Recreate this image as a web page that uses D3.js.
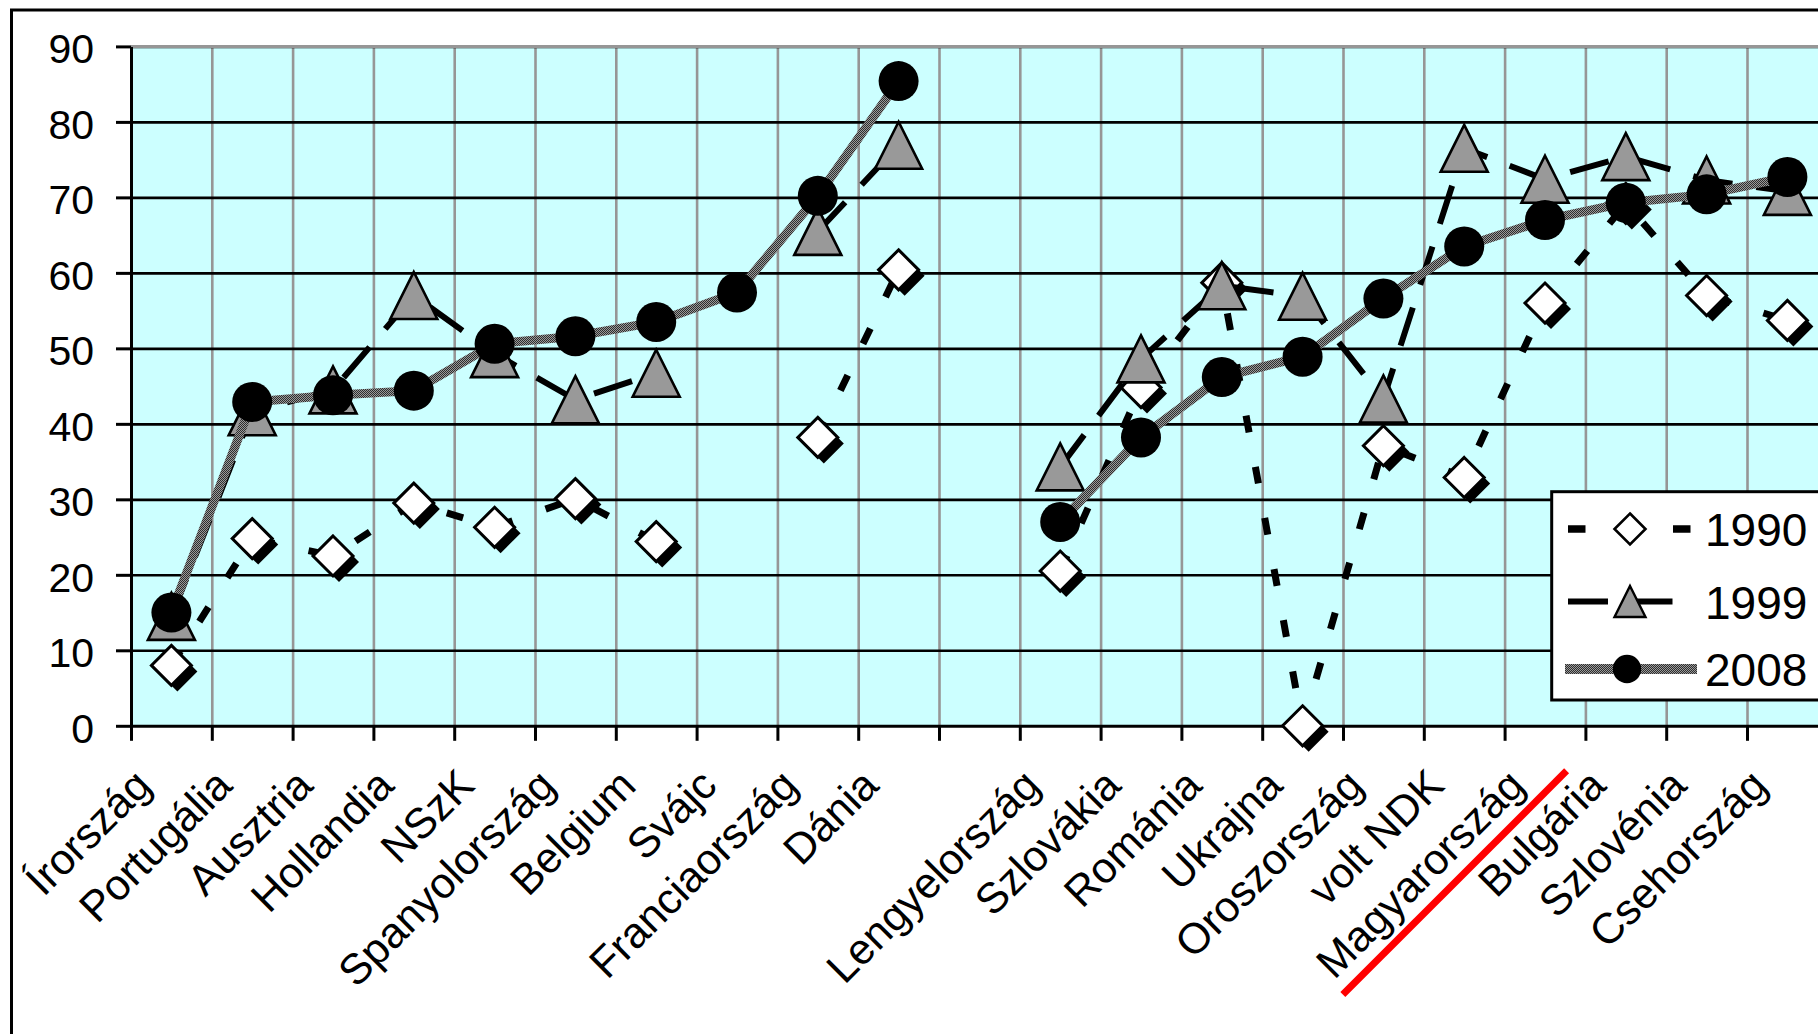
<!DOCTYPE html>
<html><head><meta charset="utf-8">
<script src="https://cdn.jsdelivr.net/npm/d3@7"></script>
<style>html,body{margin:0;padding:0;background:#fff;overflow:hidden}</style>
</head><body><svg id="c" width="1818" height="1034"></svg>
<script>
const categories = ["Írország","Portugália","Ausztria","Hollandia","NSzK","Spanyolország","Belgium","Svájc","Franciaország","Dánia","","Lengyelország","Szlovákia","Románia","Ukrajna","Oroszország","volt NDK","Magyarország","Bulgária","Szlovénia","Csehország"];
const yTicks = [0,10,20,30,40,50,60,70,80,90];
const seriesNames = ["1990","1999","2008"];
const values1990 = [8, 24.8, 22.5, 29.5, 26.3, 30.1, 24.4, null, 38.2, 60.4, null, 20.5, 44.8, 58.7, 0, 37.1, 32.9, 56, 69.2, 57, 53.7];
const values1999 = [14.5, 41.6, 44.5, 57, 49.3, 43.2, 46.7, null, 65.5, 76.9, null, 34.3, 48.6, 58.3, 56.9, 43.3, 76.5, 72.4, 75.4, 72.3, 70.8];
const values2008 = [15, 42.9, 43.8, 44.4, 50.6, 51.6, 53.5, 57.4, 70.2, 85.4, null, 27, 38.2, 46.2, 48.9, 56.6, 63.5, 67, 69.3, 70.4, 72.7];
const highlighted = "Magyarország";

const FONT = "'Liberation Sans', Arial, sans-serif";
const svg = d3.select("#c");
const L = 131, T = 46.4, B = 725.8, STEP = 80.8;
const R = L + categories.length * STEP;

const x = d3.scaleBand().domain(d3.range(categories.length)).range([L, R]);
const xc = i => x(i) + x.bandwidth() / 2;
const xEdge = d3.scaleLinear().domain([0, categories.length]).range([L, R]);
const y = d3.scaleLinear().domain([0, 90]).range([B, T]);

const defs = svg.append("defs");
const pat = defs.append("pattern").attr("id", "tex").attr("patternUnits", "userSpaceOnUse").attr("width", 2).attr("height", 2);
pat.append("rect").attr("width", 2).attr("height", 2).attr("fill", "#2e2e2e");
pat.append("rect").attr("x", 1).attr("y", 0).attr("width", 1).attr("height", 1).attr("fill", "#9a9a9a");
pat.append("rect").attr("x", 0).attr("y", 1).attr("width", 1).attr("height", 1).attr("fill", "#9a9a9a");

// outer chart border
svg.append("rect").attr("x", 11.5).attr("y", 10).attr("width", 2000).attr("height", 1200)
  .attr("fill", "#fff").attr("stroke", "#000").attr("stroke-width", 3);

// plot area
svg.append("rect").attr("x", L).attr("y", T).attr("width", R - L).attr("height", B - T).attr("fill", "#CCFFFF");

// vertical gridlines
svg.append("g").attr("transform", `translate(0,${B})`)
  .call(d3.axisBottom(xEdge).tickValues(d3.range(1, categories.length + 1)).tickSize(-(B - T)).tickFormat(""))
  .call(g => g.select(".domain").remove())
  .call(g => g.selectAll("line").attr("stroke", "#969696").attr("stroke-width", 2.6));

// horizontal gridlines
svg.append("g").attr("transform", `translate(${L},0)`)
  .call(d3.axisLeft(y).tickValues(yTicks.filter(v => v > 0)).tickSize(-(R - L)).tickFormat(""))
  .call(g => g.select(".domain").remove())
  .call(g => g.selectAll("line").attr("stroke", "#000").attr("stroke-width", 2.6));

// plot border (top)
svg.append("line").attr("x1", L).attr("x2", R).attr("y1", T).attr("y2", T).attr("stroke", "#969696").attr("stroke-width", 3);

// y axis
const ya = svg.append("g").attr("transform", `translate(${L},0)`)
  .call(d3.axisLeft(y).tickValues(yTicks).tickSize(15).tickPadding(22).tickSizeOuter(0));
ya.select(".domain").attr("stroke", "#000").attr("stroke-width", 3);
ya.selectAll("line").attr("stroke", "#000").attr("stroke-width", 3);
ya.selectAll("text").attr("font-family", FONT).attr("font-size", 41).attr("fill", "#000").attr("dy", "0.40em");

// x axis
const xa = svg.append("g").attr("transform", `translate(0,${B})`)
  .call(d3.axisBottom(xEdge).tickValues(d3.range(0, categories.length + 1)).tickSize(15).tickFormat("").tickSizeOuter(0));
xa.select(".domain").attr("stroke", "#000").attr("stroke-width", 3);
xa.selectAll("line").attr("stroke", "#000").attr("stroke-width", 3);

// category labels
const labels = svg.append("g").selectAll("g").data(categories).join("g")
  .attr("transform", (d, i) => `translate(${xc(i) - 18},${B + 62}) rotate(-45)`);
labels.append("text").attr("text-anchor", "end").attr("font-family", FONT).attr("font-size", 43).attr("fill", "#000").text(d => d);

// series
const line = d3.line().defined(d => d.v != null).x(d => xc(d.i)).y(d => y(d.v));
const pts = arr => arr.map((v, i) => ({ v, i }));
const diamond = s => `M0,${-s}L${s},0L0,${s}L${-s},0Z`;
const tri = s => `M0,${-s}L${s},${s}L${-s},${s}Z`;

// 1990
svg.append("path").attr("d", line(pts(values1990))).attr("fill", "none").attr("stroke", "#000")
  .attr("stroke-width", 7).attr("stroke-dasharray", "17,35");
const g90 = svg.append("g").selectAll("g").data(pts(values1990).filter(d => d.v != null)).join("g")
  .attr("transform", d => `translate(${xc(d.i)},${y(d.v)})`);
g90.append("path").attr("d", diamond(20)).attr("transform", "translate(6,6)").attr("fill", "#000");
g90.append("path").attr("d", diamond(20)).attr("fill", "#fff").attr("stroke", "#000").attr("stroke-width", 3);

// 1999
svg.append("path").attr("d", line(pts(values1999))).attr("fill", "none").attr("stroke", "#000")
  .attr("stroke-width", 6).attr("stroke-dasharray", "40,24");
svg.append("g").selectAll("path").data(pts(values1999).filter(d => d.v != null)).join("path")
  .attr("transform", d => `translate(${xc(d.i)},${y(d.v)})`).attr("d", tri(23.5))
  .attr("fill", "#999999").attr("stroke", "#000").attr("stroke-width", 2.6).attr("stroke-linejoin", "miter");

// 2008
svg.append("path").attr("d", line(pts(values2008))).attr("fill", "none").attr("stroke", "url(#tex)")
  .attr("stroke-width", 9).attr("stroke-linejoin", "round");
svg.append("g").selectAll("circle").data(pts(values2008).filter(d => d.v != null)).join("circle")
  .attr("cx", d => xc(d.i)).attr("cy", d => y(d.v)).attr("r", 20).attr("fill", "#000");

// legend
const LX = 1551.7, LY = 491.7;
svg.append("rect").attr("x", LX).attr("y", LY).attr("width", 400).attr("height", 208.3)
  .attr("fill", "#fff").attr("stroke", "#000").attr("stroke-width", 3);
const rowY = [529, 601.5, 669];
const lg = svg.append("g").selectAll("g").data(seriesNames).join("g").attr("transform", (d, i) => `translate(0,${rowY[i]})`);
lg.each(function (d, i) {
  const g = d3.select(this);
  if (i === 0) {
    g.append("line").attr("x1", 1568).attr("x2", 1691).attr("stroke", "#000").attr("stroke-width", 7.5).attr("stroke-dasharray", "17.5,35");
    g.append("path").attr("transform", "translate(1630,0)").attr("d", diamond(15.5)).attr("fill", "#fff").attr("stroke", "#000").attr("stroke-width", 2.6);
  } else if (i === 1) {
    g.append("line").attr("x1", 1568).attr("x2", 1691).attr("stroke", "#000").attr("stroke-width", 6).attr("stroke-dasharray", "40,24.5");
    g.append("path").attr("transform", "translate(1630,0)").attr("d", tri(15.5)).attr("fill", "#999999").attr("stroke", "#000").attr("stroke-width", 2.4);
  } else {
    g.append("line").attr("x1", 1565).attr("x2", 1697).attr("stroke", "url(#tex)").attr("stroke-width", 10);
    g.append("circle").attr("cx", 1627).attr("r", 14.2).attr("fill", "#000");
  }
  g.append("text").attr("x", 1705).attr("y", 17).attr("font-family", FONT).attr("font-size", 46).attr("fill", "#000").text(d);
});

// red strike-through annotation on highlighted label
labels.filter(d => d === highlighted).each(function () {
  const len = d3.select(this).select("text").node().getComputedTextLength();
  d3.select(this).append("line").attr("x1", -(len + 4)).attr("x2", 40).attr("y1", 16).attr("y2", 16)
    .attr("stroke", "#ff0000").attr("stroke-width", 7);
});
</script></body></html>
